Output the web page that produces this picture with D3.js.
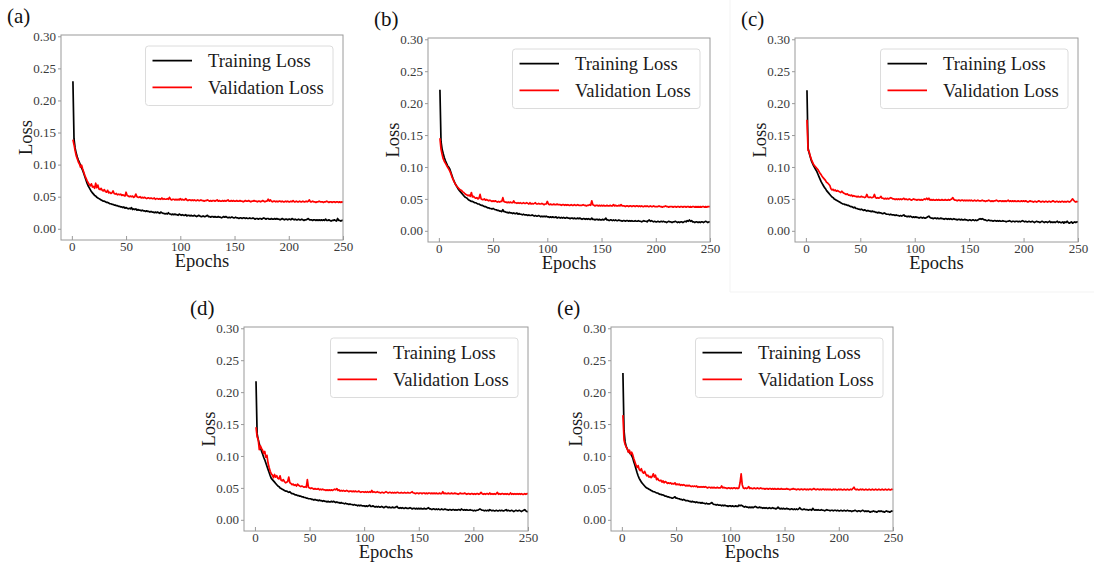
<!DOCTYPE html>
<html>
<head>
<meta charset="utf-8">
<script src="https://cdn.jsdelivr.net/npm/d3@7"></script>
<style>
  html, body { margin: 0; padding: 0; background: #fff; }
  svg { display: block; }
  text { font-family: "Liberation Serif", "Times New Roman", serif; }
</style>
</head>
<body>
<svg id="fig" width="1094" height="566"></svg>
<script>
// Loss per epoch (epochs 1..250) for the five training runs.
const trainA = [
0.230,0.140,0.126,0.118,0.112,0.107,0.103,0.099,0.095,0.091,
0.086,0.081,0.076,0.071,0.067,0.064,0.061,0.058,0.056,0.054,
0.052,0.051,0.049,0.048,0.047,0.046,0.045,0.044,0.043,0.043,
0.042,0.041,0.041,0.040,0.039,0.039,0.038,0.038,0.037,0.037,
0.036,0.036,0.035,0.035,0.034,0.034,0.033,0.034,0.032,0.033,
0.032,0.031,0.032,0.031,0.033,0.030,0.031,0.030,0.031,0.029,
0.030,0.029,0.029,0.028,0.029,0.028,0.028,0.027,0.028,0.027,
0.027,0.026,0.027,0.026,0.026,0.025,0.026,0.025,0.026,0.025,
0.024,0.026,0.025,0.024,0.024,0.023,0.024,0.023,0.025,0.023,
0.023,0.022,0.023,0.022,0.023,0.022,0.022,0.021,0.023,0.022,
0.021,0.022,0.021,0.021,0.022,0.020,0.021,0.021,0.020,0.021,
0.020,0.020,0.021,0.020,0.019,0.020,0.021,0.020,0.019,0.019,
0.020,0.019,0.019,0.020,0.021,0.019,0.019,0.018,0.019,0.019,
0.018,0.019,0.018,0.018,0.019,0.018,0.018,0.017,0.018,0.019,
0.018,0.019,0.018,0.017,0.018,0.017,0.018,0.018,0.017,0.017,
0.018,0.017,0.017,0.016,0.017,0.017,0.016,0.017,0.017,0.016,
0.017,0.016,0.016,0.017,0.016,0.016,0.017,0.016,0.015,0.016,
0.016,0.015,0.016,0.016,0.015,0.016,0.017,0.016,0.015,0.016,
0.016,0.015,0.015,0.016,0.015,0.015,0.016,0.015,0.016,0.015,
0.015,0.014,0.015,0.016,0.015,0.014,0.015,0.015,0.014,0.015,
0.015,0.014,0.016,0.015,0.014,0.015,0.014,0.014,0.015,0.014,
0.014,0.015,0.014,0.013,0.014,0.014,0.015,0.016,0.014,0.014,
0.014,0.013,0.014,0.014,0.013,0.014,0.013,0.014,0.013,0.014,
0.013,0.014,0.013,0.015,0.013,0.013,0.014,0.013,0.012,0.013,
0.013,0.014,0.013,0.012,0.016,0.013,0.013,0.012,0.013,0.013];
const valA = [
0.139,0.131,0.122,0.114,0.109,0.104,0.101,0.096,0.099,0.093,
0.088,0.083,0.079,0.075,0.072,0.069,0.067,0.070,0.065,0.066,
0.063,0.071,0.064,0.068,0.062,0.061,0.063,0.060,0.059,0.061,
0.058,0.057,0.060,0.056,0.057,0.055,0.056,0.059,0.055,0.054,
0.055,0.053,0.054,0.053,0.054,0.052,0.053,0.052,0.051,0.057,
0.052,0.051,0.050,0.051,0.050,0.051,0.049,0.050,0.054,0.050,
0.049,0.049,0.050,0.048,0.049,0.048,0.049,0.048,0.047,0.048,
0.048,0.047,0.048,0.047,0.047,0.048,0.046,0.047,0.047,0.046,
0.047,0.046,0.048,0.046,0.047,0.046,0.046,0.047,0.046,0.049,
0.046,0.045,0.046,0.046,0.045,0.046,0.045,0.046,0.045,0.047,
0.045,0.046,0.045,0.045,0.047,0.045,0.044,0.045,0.045,0.044,
0.045,0.044,0.045,0.044,0.044,0.045,0.044,0.044,0.045,0.044,
0.044,0.043,0.044,0.044,0.045,0.044,0.043,0.044,0.043,0.044,
0.044,0.043,0.044,0.045,0.043,0.044,0.043,0.043,0.044,0.043,
0.044,0.043,0.044,0.045,0.043,0.043,0.044,0.043,0.044,0.043,
0.043,0.044,0.043,0.043,0.044,0.043,0.043,0.042,0.043,0.044,
0.043,0.043,0.044,0.043,0.042,0.043,0.043,0.044,0.043,0.043,
0.042,0.043,0.043,0.042,0.043,0.044,0.043,0.042,0.043,0.043,
0.046,0.043,0.045,0.043,0.042,0.043,0.043,0.042,0.043,0.042,
0.043,0.043,0.042,0.043,0.042,0.042,0.043,0.042,0.043,0.042,
0.042,0.043,0.042,0.044,0.042,0.042,0.043,0.042,0.042,0.043,
0.042,0.042,0.043,0.042,0.042,0.043,0.042,0.043,0.045,0.042,
0.042,0.043,0.042,0.042,0.041,0.042,0.042,0.043,0.042,0.042,
0.042,0.041,0.042,0.042,0.043,0.042,0.041,0.042,0.042,0.041,
0.042,0.042,0.041,0.042,0.042,0.041,0.042,0.041,0.042,0.041];

const trainB = [
0.221,0.140,0.128,0.121,0.115,0.110,0.106,0.102,0.100,0.097,
0.092,0.087,0.082,0.078,0.074,0.071,0.068,0.065,0.063,0.061,
0.059,0.057,0.055,0.053,0.052,0.051,0.049,0.048,0.047,0.046,
0.046,0.045,0.044,0.044,0.043,0.042,0.042,0.041,0.040,0.040,
0.039,0.038,0.038,0.037,0.036,0.036,0.035,0.035,0.034,0.035,
0.034,0.033,0.033,0.032,0.032,0.031,0.031,0.030,0.033,0.030,
0.030,0.029,0.029,0.028,0.029,0.028,0.028,0.027,0.028,0.027,
0.027,0.028,0.026,0.027,0.026,0.026,0.025,0.026,0.025,0.025,
0.025,0.024,0.025,0.024,0.024,0.025,0.024,0.023,0.024,0.023,
0.023,0.024,0.023,0.022,0.023,0.022,0.023,0.022,0.023,0.022,
0.022,0.021,0.022,0.021,0.022,0.021,0.021,0.022,0.020,0.021,
0.021,0.020,0.021,0.020,0.021,0.020,0.020,0.021,0.020,0.020,
0.019,0.020,0.020,0.019,0.020,0.019,0.019,0.020,0.019,0.020,
0.019,0.018,0.019,0.019,0.018,0.019,0.018,0.019,0.018,0.018,
0.020,0.018,0.018,0.017,0.018,0.018,0.017,0.018,0.017,0.017,
0.018,0.017,0.018,0.020,0.017,0.017,0.016,0.017,0.017,0.016,
0.017,0.016,0.017,0.016,0.016,0.017,0.016,0.016,0.015,0.016,
0.016,0.015,0.016,0.016,0.015,0.016,0.015,0.016,0.015,0.015,
0.016,0.015,0.015,0.016,0.015,0.015,0.014,0.015,0.016,0.015,
0.015,0.014,0.016,0.017,0.015,0.016,0.015,0.014,0.015,0.014,
0.014,0.015,0.014,0.014,0.015,0.014,0.015,0.014,0.014,0.013,
0.014,0.015,0.014,0.014,0.013,0.014,0.014,0.015,0.014,0.013,
0.014,0.013,0.014,0.014,0.013,0.014,0.015,0.014,0.016,0.015,
0.017,0.015,0.016,0.014,0.014,0.013,0.014,0.014,0.013,0.014,
0.013,0.014,0.014,0.013,0.014,0.015,0.014,0.013,0.014,0.014];
const valB = [
0.145,0.128,0.120,0.113,0.109,0.106,0.103,0.100,0.097,0.094,
0.090,0.085,0.081,0.077,0.074,0.071,0.069,0.067,0.065,0.064,
0.063,0.061,0.060,0.058,0.057,0.056,0.055,0.056,0.054,0.060,
0.053,0.054,0.052,0.051,0.052,0.050,0.051,0.057,0.050,0.049,
0.049,0.050,0.048,0.049,0.048,0.047,0.048,0.047,0.046,0.047,
0.046,0.047,0.046,0.045,0.046,0.045,0.046,0.046,0.052,0.046,
0.045,0.045,0.044,0.045,0.044,0.045,0.044,0.044,0.047,0.044,
0.044,0.043,0.044,0.043,0.044,0.043,0.043,0.044,0.043,0.043,
0.044,0.043,0.042,0.044,0.042,0.043,0.042,0.043,0.044,0.042,
0.042,0.043,0.042,0.042,0.043,0.042,0.041,0.042,0.042,0.046,
0.042,0.041,0.042,0.041,0.041,0.042,0.041,0.041,0.042,0.041,
0.041,0.041,0.040,0.041,0.041,0.040,0.041,0.040,0.041,0.040,
0.040,0.041,0.040,0.040,0.041,0.040,0.040,0.041,0.040,0.040,
0.040,0.040,0.041,0.040,0.040,0.039,0.040,0.040,0.041,0.040,
0.047,0.041,0.040,0.039,0.040,0.040,0.039,0.040,0.039,0.040,
0.039,0.040,0.039,0.039,0.040,0.039,0.039,0.040,0.039,0.039,
0.041,0.039,0.040,0.039,0.039,0.040,0.039,0.041,0.039,0.039,
0.039,0.038,0.039,0.039,0.038,0.039,0.039,0.038,0.039,0.039,
0.038,0.039,0.039,0.038,0.039,0.038,0.039,0.038,0.038,0.039,
0.038,0.039,0.038,0.038,0.039,0.038,0.038,0.039,0.038,0.038,
0.038,0.038,0.039,0.038,0.038,0.037,0.038,0.038,0.039,0.038,
0.038,0.037,0.038,0.038,0.038,0.037,0.038,0.038,0.037,0.038,
0.038,0.037,0.038,0.038,0.037,0.038,0.038,0.037,0.038,0.038,
0.037,0.038,0.037,0.038,0.038,0.037,0.038,0.037,0.038,0.037,
0.038,0.037,0.038,0.038,0.037,0.038,0.037,0.038,0.038,0.038];

const trainC = [
0.220,0.130,0.122,0.116,0.110,0.106,0.102,0.099,0.096,0.093,
0.089,0.085,0.081,0.077,0.074,0.071,0.068,0.066,0.063,0.061,
0.059,0.057,0.055,0.053,0.052,0.050,0.049,0.048,0.047,0.046,
0.045,0.044,0.043,0.042,0.042,0.041,0.041,0.040,0.040,0.039,
0.038,0.038,0.037,0.036,0.037,0.035,0.035,0.034,0.034,0.033,
0.034,0.033,0.032,0.033,0.032,0.031,0.032,0.031,0.031,0.030,
0.031,0.030,0.030,0.029,0.029,0.028,0.029,0.028,0.028,0.027,
0.027,0.028,0.027,0.026,0.026,0.026,0.025,0.026,0.025,0.025,
0.025,0.024,0.025,0.024,0.024,0.023,0.024,0.023,0.024,0.025,
0.023,0.023,0.022,0.023,0.022,0.023,0.022,0.021,0.022,0.021,
0.022,0.021,0.021,0.020,0.021,0.021,0.020,0.021,0.020,0.020,
0.021,0.022,0.023,0.021,0.020,0.020,0.019,0.020,0.020,0.019,
0.020,0.019,0.019,0.020,0.019,0.019,0.018,0.019,0.019,0.018,
0.019,0.018,0.019,0.018,0.018,0.019,0.018,0.018,0.017,0.018,
0.018,0.017,0.018,0.017,0.017,0.018,0.017,0.017,0.016,0.017,
0.017,0.016,0.017,0.017,0.016,0.017,0.016,0.017,0.018,0.019,
0.018,0.019,0.018,0.017,0.017,0.016,0.016,0.017,0.016,0.016,
0.016,0.015,0.016,0.016,0.015,0.016,0.015,0.016,0.015,0.015,
0.016,0.015,0.015,0.014,0.015,0.015,0.016,0.015,0.014,0.015,
0.015,0.014,0.015,0.015,0.014,0.015,0.014,0.015,0.016,0.015,
0.014,0.015,0.014,0.014,0.015,0.014,0.014,0.015,0.014,0.013,
0.014,0.015,0.014,0.014,0.013,0.014,0.015,0.014,0.013,0.014,
0.014,0.013,0.014,0.015,0.013,0.014,0.013,0.014,0.013,0.014,
0.015,0.013,0.014,0.013,0.013,0.014,0.012,0.014,0.013,0.015,
0.013,0.012,0.013,0.014,0.012,0.013,0.014,0.013,0.014,0.014];
const valC = [
0.174,0.126,0.124,0.117,0.112,0.108,0.104,0.102,0.100,0.098,
0.096,0.093,0.090,0.088,0.085,0.083,0.081,0.079,0.076,0.075,
0.073,0.071,0.066,0.064,0.065,0.063,0.064,0.062,0.063,0.062,
0.061,0.060,0.062,0.060,0.059,0.058,0.057,0.058,0.056,0.056,
0.055,0.056,0.054,0.055,0.054,0.054,0.053,0.054,0.053,0.053,
0.054,0.053,0.053,0.052,0.053,0.057,0.053,0.052,0.053,0.052,
0.052,0.053,0.057,0.052,0.051,0.052,0.051,0.052,0.054,0.051,
0.051,0.050,0.051,0.050,0.051,0.050,0.051,0.052,0.051,0.050,
0.050,0.049,0.050,0.049,0.050,0.049,0.050,0.049,0.050,0.051,
0.049,0.050,0.049,0.049,0.050,0.049,0.048,0.049,0.050,0.049,
0.049,0.048,0.049,0.049,0.048,0.049,0.048,0.049,0.050,0.049,
0.051,0.049,0.051,0.048,0.049,0.048,0.049,0.048,0.048,0.049,
0.048,0.049,0.048,0.048,0.049,0.048,0.048,0.049,0.048,0.048,
0.049,0.048,0.049,0.050,0.052,0.049,0.048,0.048,0.047,0.048,
0.048,0.047,0.048,0.048,0.047,0.048,0.047,0.048,0.047,0.048,
0.047,0.048,0.047,0.047,0.048,0.047,0.047,0.048,0.047,0.047,
0.047,0.048,0.047,0.047,0.046,0.047,0.047,0.048,0.047,0.046,
0.047,0.046,0.047,0.047,0.048,0.047,0.046,0.047,0.047,0.046,
0.047,0.046,0.047,0.046,0.047,0.048,0.046,0.047,0.046,0.047,
0.046,0.047,0.046,0.046,0.047,0.046,0.046,0.047,0.046,0.047,
0.046,0.047,0.046,0.045,0.046,0.047,0.046,0.046,0.045,0.046,
0.046,0.045,0.046,0.047,0.046,0.045,0.046,0.046,0.045,0.046,
0.046,0.045,0.046,0.046,0.045,0.046,0.047,0.046,0.045,0.046,
0.046,0.045,0.046,0.045,0.046,0.046,0.045,0.046,0.045,0.046,
0.046,0.045,0.046,0.048,0.050,0.048,0.046,0.045,0.046,0.045];

const trainD = [
0.217,0.135,0.126,0.119,0.113,0.108,0.103,0.098,0.094,0.089,
0.084,0.079,0.074,0.069,0.065,0.063,0.061,0.059,0.057,0.055,
0.053,0.052,0.050,0.049,0.048,0.047,0.046,0.045,0.045,0.044,
0.043,0.044,0.042,0.041,0.041,0.040,0.039,0.039,0.038,0.038,
0.037,0.037,0.036,0.036,0.035,0.035,0.034,0.034,0.033,0.033,
0.033,0.032,0.032,0.031,0.032,0.031,0.031,0.030,0.031,0.030,
0.030,0.029,0.030,0.029,0.029,0.028,0.029,0.028,0.028,0.029,
0.028,0.029,0.028,0.027,0.028,0.027,0.027,0.026,0.027,0.026,
0.026,0.025,0.026,0.025,0.025,0.024,0.025,0.024,0.024,0.023,
0.024,0.023,0.023,0.022,0.023,0.022,0.023,0.022,0.022,0.022,
0.021,0.022,0.021,0.022,0.023,0.021,0.021,0.022,0.021,0.020,
0.021,0.020,0.021,0.020,0.020,0.021,0.020,0.019,0.020,0.021,
0.020,0.019,0.020,0.019,0.019,0.020,0.019,0.019,0.020,0.021,
0.019,0.018,0.019,0.018,0.019,0.018,0.018,0.019,0.018,0.018,
0.018,0.019,0.018,0.017,0.018,0.018,0.017,0.018,0.017,0.018,
0.017,0.018,0.017,0.017,0.018,0.017,0.017,0.018,0.019,0.017,
0.017,0.016,0.017,0.017,0.016,0.017,0.016,0.017,0.016,0.016,
0.017,0.016,0.016,0.017,0.016,0.016,0.015,0.016,0.016,0.015,
0.016,0.016,0.015,0.016,0.015,0.016,0.016,0.015,0.017,0.016,
0.015,0.016,0.015,0.016,0.015,0.015,0.016,0.015,0.015,0.014,
0.015,0.014,0.015,0.015,0.016,0.017,0.016,0.015,0.015,0.014,
0.015,0.014,0.015,0.014,0.016,0.015,0.014,0.015,0.014,0.014,
0.015,0.014,0.014,0.015,0.014,0.015,0.014,0.014,0.015,0.016,
0.014,0.015,0.014,0.014,0.015,0.014,0.013,0.014,0.015,0.014,
0.014,0.015,0.014,0.013,0.014,0.015,0.016,0.014,0.013,0.013];
const valD = [
0.145,0.130,0.126,0.110,0.116,0.112,0.109,0.104,0.107,0.098,
0.101,0.089,0.082,0.076,0.072,0.070,0.066,0.071,0.067,0.069,
0.065,0.064,0.069,0.062,0.061,0.063,0.060,0.058,0.059,0.060,
0.067,0.058,0.057,0.055,0.056,0.054,0.055,0.053,0.056,0.054,
0.053,0.052,0.053,0.052,0.051,0.052,0.051,0.063,0.051,0.050,
0.049,0.050,0.049,0.048,0.049,0.048,0.048,0.049,0.047,0.048,
0.047,0.048,0.047,0.047,0.046,0.047,0.046,0.047,0.046,0.047,
0.046,0.047,0.048,0.047,0.049,0.046,0.047,0.045,0.046,0.045,
0.046,0.045,0.045,0.046,0.045,0.044,0.045,0.045,0.044,0.045,
0.044,0.045,0.044,0.044,0.045,0.044,0.043,0.044,0.044,0.043,
0.044,0.043,0.044,0.043,0.044,0.043,0.046,0.043,0.044,0.043,
0.043,0.044,0.043,0.043,0.042,0.043,0.043,0.042,0.043,0.044,
0.043,0.042,0.043,0.043,0.042,0.043,0.042,0.043,0.042,0.043,
0.043,0.042,0.042,0.043,0.042,0.042,0.043,0.042,0.042,0.043,
0.042,0.042,0.043,0.044,0.042,0.042,0.041,0.042,0.042,0.041,
0.042,0.042,0.041,0.042,0.042,0.041,0.042,0.041,0.042,0.042,
0.041,0.042,0.041,0.042,0.041,0.042,0.041,0.041,0.042,0.041,
0.041,0.044,0.041,0.042,0.041,0.041,0.042,0.041,0.041,0.042,
0.041,0.041,0.042,0.041,0.041,0.040,0.041,0.042,0.041,0.041,
0.041,0.042,0.041,0.040,0.041,0.041,0.040,0.041,0.041,0.040,
0.041,0.040,0.041,0.041,0.040,0.041,0.043,0.041,0.040,0.041,
0.040,0.041,0.041,0.040,0.042,0.040,0.041,0.040,0.041,0.040,
0.041,0.043,0.040,0.041,0.040,0.041,0.041,0.040,0.041,0.040,
0.041,0.040,0.040,0.042,0.040,0.041,0.040,0.041,0.040,0.041,
0.040,0.041,0.040,0.041,0.040,0.040,0.041,0.040,0.041,0.041];

const trainE = [
0.230,0.140,0.122,0.115,0.111,0.107,0.105,0.103,0.101,0.097,
0.091,0.086,0.080,0.074,0.069,0.065,0.062,0.059,0.057,0.055,
0.053,0.051,0.050,0.049,0.048,0.047,0.046,0.045,0.044,0.044,
0.043,0.042,0.042,0.041,0.040,0.040,0.039,0.039,0.038,0.037,
0.037,0.036,0.036,0.035,0.035,0.034,0.034,0.035,0.036,0.034,
0.034,0.033,0.033,0.032,0.032,0.031,0.032,0.031,0.030,0.030,
0.030,0.029,0.029,0.028,0.029,0.028,0.028,0.027,0.028,0.027,
0.027,0.027,0.026,0.027,0.026,0.026,0.025,0.026,0.025,0.025,
0.025,0.026,0.027,0.025,0.024,0.024,0.023,0.024,0.023,0.023,
0.023,0.022,0.023,0.022,0.023,0.022,0.022,0.021,0.022,0.022,
0.021,0.022,0.021,0.021,0.022,0.021,0.021,0.023,0.022,0.023,
0.022,0.021,0.020,0.021,0.020,0.020,0.019,0.020,0.019,0.020,
0.019,0.020,0.021,0.020,0.019,0.019,0.020,0.019,0.019,0.018,
0.019,0.018,0.019,0.018,0.018,0.019,0.018,0.018,0.019,0.018,
0.018,0.017,0.018,0.020,0.018,0.017,0.018,0.017,0.018,0.017,
0.017,0.018,0.017,0.017,0.016,0.017,0.017,0.016,0.017,0.016,
0.017,0.016,0.017,0.019,0.017,0.016,0.016,0.017,0.016,0.016,
0.016,0.015,0.016,0.016,0.015,0.018,0.016,0.015,0.016,0.015,
0.016,0.015,0.015,0.016,0.015,0.015,0.014,0.015,0.016,0.015,
0.015,0.014,0.015,0.015,0.014,0.015,0.015,0.014,0.015,0.014,
0.014,0.015,0.014,0.014,0.015,0.014,0.014,0.015,0.014,0.014,
0.014,0.013,0.014,0.014,0.015,0.014,0.013,0.014,0.014,0.013,
0.014,0.015,0.014,0.013,0.014,0.013,0.014,0.013,0.012,0.013,
0.013,0.014,0.013,0.013,0.012,0.013,0.014,0.013,0.014,0.013,
0.013,0.012,0.013,0.014,0.013,0.013,0.012,0.013,0.014,0.013];
const valE = [
0.164,0.125,0.118,0.114,0.111,0.106,0.109,0.103,0.106,0.102,
0.096,0.091,0.086,0.082,0.085,0.079,0.077,0.080,0.075,0.073,
0.076,0.072,0.069,0.070,0.067,0.068,0.066,0.068,0.072,0.067,
0.070,0.063,0.065,0.062,0.061,0.062,0.059,0.061,0.058,0.060,
0.059,0.057,0.058,0.057,0.058,0.056,0.057,0.056,0.058,0.055,
0.056,0.055,0.056,0.054,0.055,0.054,0.055,0.054,0.053,0.054,
0.053,0.054,0.053,0.052,0.053,0.052,0.053,0.052,0.053,0.051,
0.052,0.051,0.052,0.051,0.052,0.051,0.052,0.051,0.050,0.051,
0.051,0.050,0.051,0.050,0.051,0.050,0.050,0.051,0.050,0.050,
0.050,0.053,0.050,0.051,0.050,0.050,0.049,0.050,0.050,0.049,
0.050,0.049,0.050,0.050,0.049,0.050,0.049,0.050,0.058,0.072,
0.055,0.050,0.049,0.050,0.049,0.050,0.052,0.049,0.050,0.049,
0.049,0.050,0.049,0.049,0.050,0.049,0.049,0.050,0.049,0.049,
0.049,0.048,0.049,0.049,0.048,0.049,0.049,0.048,0.049,0.048,
0.049,0.048,0.048,0.049,0.048,0.048,0.049,0.048,0.048,0.048,
0.048,0.049,0.048,0.048,0.047,0.048,0.048,0.049,0.048,0.048,
0.047,0.048,0.048,0.047,0.048,0.048,0.047,0.048,0.048,0.047,
0.048,0.047,0.048,0.048,0.047,0.048,0.049,0.048,0.047,0.048,
0.048,0.047,0.048,0.047,0.048,0.048,0.047,0.048,0.047,0.048,
0.047,0.048,0.047,0.047,0.048,0.047,0.048,0.047,0.047,0.048,
0.047,0.048,0.047,0.047,0.048,0.047,0.047,0.048,0.047,0.047,
0.048,0.047,0.049,0.051,0.048,0.047,0.048,0.047,0.047,0.048,
0.047,0.048,0.047,0.047,0.048,0.047,0.047,0.048,0.047,0.047,
0.048,0.047,0.047,0.048,0.047,0.047,0.048,0.047,0.047,0.048,
0.047,0.047,0.048,0.047,0.047,0.048,0.047,0.047,0.048,0.047];

const panelLabels = ["(a)", "(b)", "(c)", "(d)", "(e)"];
const seriesNames = ["Training Loss", "Validation Loss"];
const xTicks = [0, 50, 100, 150, 200, 250];
const yTicks = [0.00, 0.05, 0.10, 0.15, 0.20, 0.25, 0.30];
const xLabel = "Epochs";
const yLabel = "Loss";

// Plot frames: left, top, right, bottom (px)
const frames = [
  [61, 35, 343, 240],
  [428, 38, 710, 242],
  [795, 38, 1078, 242],
  [244, 327, 528, 531],
  [611, 327, 893, 531]
];
const runs = [[trainA, valA], [trainB, valB], [trainC, valC], [trainD, valD], [trainE, valE]];
const colors = ["#000000", "#ff0000"];

const svg = d3.select("#fig");

// faint seams between the upper-right subfigure and its neighbours
svg.append("path")
  .attr("d", "M730,0V292H1094")
  .attr("fill", "none").attr("stroke", "#f3f3f3").attr("stroke-width", 1);

runs.forEach((run, i) => {
  const [l, t, r, b] = frames[i];
  const x = d3.scaleLinear().domain([-10, 250]).range([l, r]);
  const y = d3.scaleLinear().domain([-0.0175, 0.302]).range([b, t]);
  const g = svg.append("g");

  // curves
  run.forEach((vals, k) => {
    const line = d3.line()
      .x((d, j) => x(j + 1))
      .y(d => y(d));
    g.append("path")
      .datum(vals)
      .attr("fill", "none")
      .attr("stroke", colors[k])
      .attr("stroke-width", 1.7)
      .attr("stroke-linejoin", "round")
      .attr("d", line);
  });

  // frame
  g.append("rect")
    .attr("x", l).attr("y", t)
    .attr("width", r - l).attr("height", b - t)
    .attr("fill", "none").attr("stroke", "#9a9a9a").attr("stroke-width", 1);

  // y axis (outward ticks)
  const ya = g.append("g")
    .attr("transform", `translate(${l},0)`)
    .call(d3.axisLeft(y).tickValues(yTicks).tickFormat(d3.format(".2f")).tickSize(3).tickPadding(2));
  ya.select(".domain").remove();
  ya.selectAll("line").attr("stroke", "#9a9a9a");
  ya.selectAll("text")
    .attr("font-family", "Liberation Serif, serif")
    .attr("font-size", 13)
    .attr("fill", "#3a3a3a");

  // x axis (inward ticks)
  const xa = g.append("g")
    .attr("transform", `translate(0,${b})`)
    .call(d3.axisBottom(x).tickValues(xTicks).tickSizeInner(-4).tickSizeOuter(0).tickPadding(2));
  xa.select(".domain").remove();
  xa.selectAll("line").attr("stroke", "#9a9a9a");
  xa.selectAll("text")
    .attr("font-family", "Liberation Serif, serif")
    .attr("font-size", 13)
    .attr("fill", "#3a3a3a");

  // axis titles
  g.append("text")
    .attr("x", (l + r) / 2).attr("y", b + 27)
    .attr("text-anchor", "middle")
    .attr("font-size", 18.5).attr("fill", "#1a1a1a")
    .text(xLabel);
  g.append("text")
    .attr("transform", `translate(${l - 29},${(t + b) / 2}) rotate(-90)`)
    .attr("text-anchor", "middle")
    .attr("font-size", 18.5).attr("fill", "#1a1a1a")
    .text(yLabel);

  // panel label
  g.append("text")
    .attr("x", l - 54).attr("y", t - 12)
    .attr("font-size", 21).attr("fill", "#111")
    .text(panelLabels[i]);

  // legend
  const lw = 187.5, lh = 59.5;
  const lx = r - 10 - lw, ly = t + 11;
  const lg = g.append("g").attr("transform", `translate(${lx},${ly})`);
  lg.append("rect")
    .attr("width", lw).attr("height", lh).attr("rx", 3)
    .attr("fill", "#fff").attr("fill-opacity", 0.85)
    .attr("stroke", "#dcdcdc").attr("stroke-width", 1);
  seriesNames.forEach((name, k) => {
    const ry = 14.7 + k * 26.6;
    lg.append("line")
      .attr("x1", 7).attr("x2", 46.5).attr("y1", ry).attr("y2", ry)
      .attr("stroke", colors[k]).attr("stroke-width", 1.8);
    lg.append("text")
      .attr("x", 62.5).attr("y", ry + 6.3)
      .attr("font-size", 18.5).attr("fill", "#1a1a1a")
      .text(name);
  });
});
</script>
</body>
</html>
